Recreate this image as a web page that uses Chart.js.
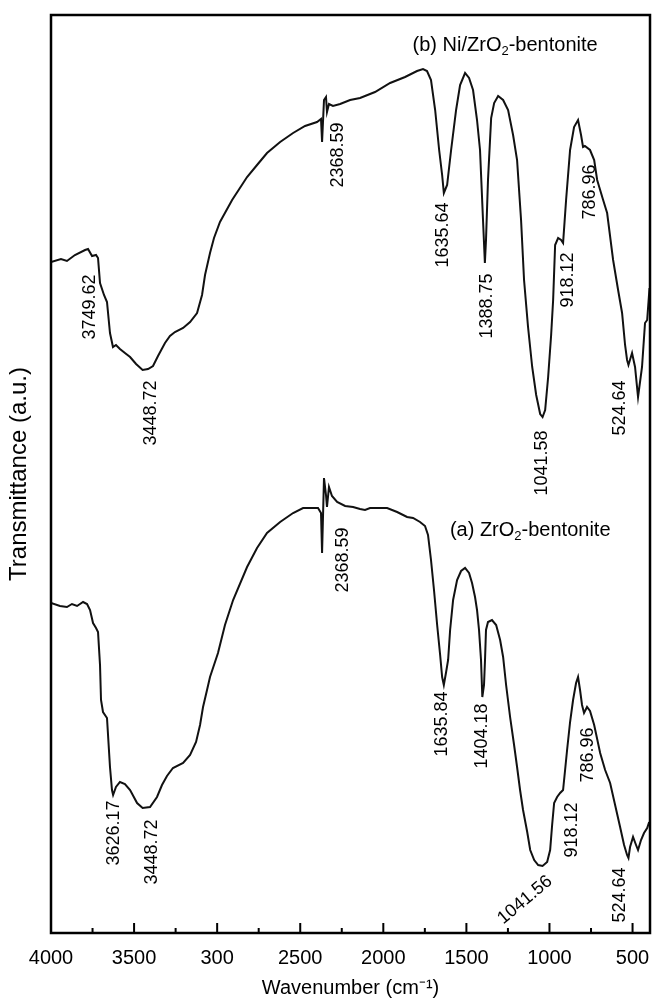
<!DOCTYPE html>
<html>
<head>
<meta charset="utf-8">
<title>FTIR spectra</title>
<script src="https://cdn.jsdelivr.net/npm/chart.js@4.4.1/dist/chart.umd.min.js"></script>
<style>
    html, body { margin: 0; padding: 0; background: #fff; }
    #wrap { width: 652px; height: 1000px; }
</style>
</head>
<body>
<div id="wrap"><canvas id="myChart"></canvas></div>
<script>
// Tick values and their printed labels (the original prints "300" for 3000)
const tickValues = [4000, 3500, 3000, 2500, 2000, 1500, 1000, 500];
const tickLabels = ['4000', '3500', '300', '2500', '2000', '1500', '1000', '500'];
const minorTickValues = [3750, 3250, 2750, 2250, 1750, 1250, 750];

// (b) Ni/ZrO2-bentonite
const bWavenumber = [4000, 3940, 3904, 3856, 3795, 3777, 3753, 3729, 3717, 3705, 3681, 3663, 3645, 3627, 3609, 3585, 3555, 3524, 3488, 3448.72,
    3416, 3386, 3356, 3314, 3284, 3254, 3205, 3163, 3121, 3091, 3073, 3043, 3019, 2983, 2910, 2820, 2760, 2700, 2621, 2543,
    2471, 2399, 2375, 2368.59, 2357, 2345, 2339, 2327, 2303, 2260, 2200, 2140, 2050, 1959, 1869, 1797, 1761, 1737, 1713, 1688,
    1664, 1646, 1635.64, 1616, 1592, 1562, 1538, 1508, 1484, 1460, 1436, 1418, 1400, 1388.75, 1382, 1370, 1351, 1333, 1309, 1279,
    1249, 1219, 1195, 1171, 1153, 1129, 1104, 1080, 1056, 1041.58, 1026, 1008, 990, 978, 966, 948, 930, 918.12, 900, 876,
    852, 828, 810, 798, 786.96, 756, 731, 713, 677, 653, 617, 587, 563, 545, 533, 524.64, 503, 485, 467, 443,
    425, 412, 398];
const bTransmittance = [6.71, 6.74, 6.72, 6.78, 6.83, 6.84, 6.77, 6.78, 6.75, 6.50, 6.38, 6.31, 6.00, 5.86, 5.88, 5.84, 5.80, 5.76, 5.69, 5.63,
    5.64, 5.67, 5.77, 5.90, 5.97, 6.01, 6.05, 6.11, 6.20, 6.38, 6.58, 6.80, 6.95, 7.11, 7.33, 7.56, 7.68, 7.80, 7.91, 8.00,
    8.07, 8.11, 8.14, 7.91, 8.33, 8.36, 8.21, 8.29, 8.27, 8.29, 8.33, 8.35, 8.41, 8.50, 8.56, 8.62, 8.64, 8.62, 8.53, 8.23,
    7.83, 7.58, 7.40, 7.48, 7.83, 8.23, 8.48, 8.60, 8.55, 8.43, 8.13, 7.83, 7.13, 6.70, 6.93, 7.53, 8.15, 8.30, 8.37, 8.33,
    8.23, 7.98, 7.73, 7.13, 6.53, 6.06, 5.66, 5.38, 5.19, 5.16, 5.23, 5.56, 5.98, 6.33, 6.88, 6.95, 6.93, 6.90, 7.33, 7.83,
    8.06, 8.13, 7.98, 7.86, 7.87, 7.83, 7.73, 7.53, 7.33, 7.20, 6.73, 6.43, 6.20, 5.88, 5.73, 5.68, 5.80, 5.66, 5.36, 5.66,
    6.10, 6.13, 6.45];

// (a) ZrO2-bentonite
const aWavenumber = [4000, 3946, 3904, 3874, 3843, 3807, 3783, 3765, 3747, 3729, 3717, 3705, 3699, 3687, 3663, 3645, 3633, 3626.17, 3609, 3585,
    3555, 3524, 3482, 3448.72, 3404, 3362, 3332, 3302, 3266, 3205, 3163, 3127, 3103, 3085, 3061, 3043, 2995, 2953, 2904, 2820,
    2760, 2700, 2621, 2543, 2483, 2393, 2375, 2368.59, 2357, 2345, 2339, 2327, 2309, 2278, 2230, 2182, 2140, 2110, 2080, 1977,
    1917, 1857, 1821, 1779, 1749, 1731, 1713, 1695, 1676, 1658, 1646, 1635.84, 1622, 1610, 1598, 1580, 1556, 1532, 1508, 1484,
    1466, 1448, 1436, 1424, 1412, 1404.18, 1394, 1388, 1382, 1370, 1346, 1321, 1297, 1279, 1261, 1237, 1213, 1195, 1177, 1159,
    1134, 1116, 1092, 1068, 1041.56, 1014, 996, 984, 972, 954, 936, 918.12, 906, 894, 876, 858, 840, 828, 816, 804,
    792, 774, 756, 731, 695, 665, 635, 605, 575, 551, 533, 524.64, 515, 497, 479, 467, 449, 431, 412, 400];
const aTransmittance = [3.30, 3.27, 3.26, 3.29, 3.27, 3.31, 3.29, 3.23, 3.10, 3.05, 3.01, 2.68, 2.33, 2.21, 2.15, 1.66, 1.43, 1.38, 1.46, 1.51,
    1.49, 1.43, 1.30, 1.25, 1.26, 1.36, 1.48, 1.57, 1.65, 1.70, 1.78, 1.91, 2.08, 2.26, 2.43, 2.56, 2.80, 3.08, 3.33, 3.66,
    3.85, 4.00, 4.11, 4.20, 4.25, 4.25, 4.20, 3.80, 4.55, 4.38, 4.26, 4.46, 4.37, 4.31, 4.27, 4.26, 4.24, 4.23, 4.25, 4.25,
    4.21, 4.16, 4.15, 4.11, 4.07, 3.98, 3.73, 3.43, 3.08, 2.78, 2.56, 2.48, 2.61, 2.73, 3.03, 3.33, 3.53, 3.62, 3.65, 3.60,
    3.50, 3.36, 3.23, 3.03, 2.73, 2.36, 2.48, 2.73, 3.03, 3.11, 3.13, 3.08, 2.93, 2.76, 2.48, 2.16, 1.88, 1.66, 1.43, 1.23,
    1.01, 0.83, 0.73, 0.68, 0.67, 0.71, 0.83, 1.08, 1.30, 1.36, 1.40, 1.43, 1.63, 1.83, 2.11, 2.33, 2.50, 2.56, 2.43, 2.28,
    2.20, 2.26, 2.22, 2.08, 1.80, 1.63, 1.50, 1.28, 1.06, 0.88, 0.78, 0.75, 0.86, 0.96, 0.88, 0.83, 0.93, 1.00, 1.05, 1.11];

// Peak labels, placed in data units (wavenumber, transmittance) of the text centre
const peakNotes = [
    { text: '3749.62', wn: 3765, t: 6.26, angle: -90 },
    { text: '3448.72', wn: 3398, t: 5.20, angle: -90 },
    { text: '2368.59', wn: 2272, t: 7.78, angle: -90 },
    { text: '1635.64', wn: 1640, t: 6.98, angle: -90 },
    { text: '1388.75', wn: 1375, t: 6.27, angle: -90 },
    { text: '1041.58', wn: 1044, t: 4.70, angle: -90 },
    { text: '918.12', wn: 888, t: 6.53, angle: -90 },
    { text: '786.96', wn: 755, t: 7.41, angle: -90 },
    { text: '524.64', wn: 575, t: 5.25, angle: -90 },
    { text: '2368.59', wn: 2242, t: 3.73, angle: -90 },
    { text: '3626.17', wn: 3621, t: 1.00, angle: -90 },
    { text: '3448.72', wn: 3392, t: 0.81, angle: -90 },
    { text: '1635.84', wn: 1646, t: 2.09, angle: -90 },
    { text: '1404.18', wn: 1405, t: 1.97, angle: -90 },
    { text: '786.96', wn: 767, t: 1.78, angle: -90 },
    { text: '918.12', wn: 864, t: 1.03, angle: -90 },
    { text: '1041.56', wn: 1147, t: 0.33, angle: -40 },
    { text: '524.64', wn: 575, t: 0.38, angle: -90 }
];
const sampleNotes = [
    { parts: ['(b) Ni/ZrO', '2', '-bentonite'], wn: 1267, t: 8.88 },
    { parts: ['(a) ZrO', '2', '-bentonite'], wn: 1116, t: 4.03 }
];

Chart.defaults.font.family = "'Liberation Sans', Arial, Helvetica, sans-serif";
Chart.defaults.color = '#000';

function toPoints(xs, ys) {
    return xs.map((x, i) => ({ x: x, y: ys[i] }));
}

// Box round the plot and inward tick marks on the bottom axis
const frameTicks = {
    id: 'frameTicks',
    afterDraw(chart) {
        const { ctx, chartArea: a } = chart;
        const x = chart.scales.x;
        ctx.save();
        ctx.strokeStyle = '#000';
        ctx.lineWidth = 2.5;
        ctx.strokeRect(a.left, a.top, a.right - a.left, a.bottom - a.top);
        ctx.lineWidth = 2;
        ctx.beginPath();
        tickValues.forEach(v => {
            const px = x.getPixelForValue(v);
            ctx.moveTo(px, a.bottom);
            ctx.lineTo(px, a.bottom - 10);
        });
        minorTickValues.forEach(v => {
            const px = x.getPixelForValue(v);
            ctx.moveTo(px, a.bottom);
            ctx.lineTo(px, a.bottom - 5);
        });
        ctx.stroke();
        ctx.restore();
    }
};

// Peak numbers and sample names
const notes = {
    id: 'notes',
    afterDraw(chart) {
        const { ctx } = chart;
        const x = chart.scales.x, y = chart.scales.y;
        const family = Chart.defaults.font.family;
        ctx.save();
        ctx.fillStyle = '#000';
        ctx.textBaseline = 'middle';
        ctx.textAlign = 'center';
        ctx.font = '18px ' + family;
        peakNotes.forEach(n => {
            ctx.save();
            ctx.translate(x.getPixelForValue(n.wn), y.getPixelForValue(n.t));
            ctx.rotate(n.angle * Math.PI / 180);
            ctx.fillText(n.text, 0, 0);
            ctx.restore();
        });
        ctx.textAlign = 'left';
        sampleNotes.forEach(n => {
            const big = '20px ' + family, small = '13px ' + family;
            ctx.font = big;
            const w1 = ctx.measureText(n.parts[0]).width;
            const w3 = ctx.measureText(n.parts[2]).width;
            ctx.font = small;
            const w2 = ctx.measureText(n.parts[1]).width;
            let px = x.getPixelForValue(n.wn) - (w1 + w2 + w3) / 2;
            const py = y.getPixelForValue(n.t);
            ctx.font = big;
            ctx.fillText(n.parts[0], px, py);
            px += w1;
            ctx.font = small;
            ctx.fillText(n.parts[1], px, py + 6);
            px += w2;
            ctx.font = big;
            ctx.fillText(n.parts[2], px, py);
        });
        ctx.restore();
    }
};

const ctx = document.getElementById('myChart').getContext('2d');
const myChart = new Chart(ctx, {
    type: 'line',
    data: {
        datasets: [{
            label: '(b) Ni/ZrO2-bentonite',
            data: toPoints(bWavenumber, bTransmittance),
            borderColor: '#111',
            borderWidth: 2,
            pointRadius: 0,
            tension: 0,
            fill: false
        }, {
            label: '(a) ZrO2-bentonite',
            data: toPoints(aWavenumber, aTransmittance),
            borderColor: '#111',
            borderWidth: 2,
            pointRadius: 0,
            tension: 0,
            fill: false
        }]
    },
    options: {
        responsive: true,
        maintainAspectRatio: false,
        animation: false,
        devicePixelRatio: 1,
        layout: { padding: { top: 15, right: 2, left: 0, bottom: 0 } },
        plugins: {
            legend: { display: false },
            tooltip: { enabled: false }
        },
        scales: {
            x: {
                type: 'linear',
                reverse: true,
                min: 395,
                max: 4000,
                grid: { display: false, drawTicks: false },
                border: { display: false },
                afterBuildTicks: s => { s.ticks = tickValues.map(v => ({ value: v })); },
                afterFit: s => {
                    s.height = 67;
                    // labels at the ends fit inside the canvas, so no extra side room
                    s.paddingLeft = 0;
                    s.paddingRight = 0;
                },
                ticks: {
                    autoSkip: false,
                    maxRotation: 0,
                    padding: 13,
                    font: { size: 20 },
                    callback: v => tickLabels[tickValues.indexOf(v)]
                },
                title: {
                    display: true,
                    text: 'Wavenumber (cm\u207B\u00B9)',
                    font: { size: 20 },
                    padding: 0
                }
            },
            y: {
                min: 0,
                max: 9.18,
                grid: { display: false, drawTicks: false },
                border: { display: false },
                ticks: { display: false },
                afterFit: s => { s.width = 51; },
                title: {
                    display: true,
                    text: 'Transmittance (a.u.)',
                    font: { size: 24 },
                    padding: { top: 5, bottom: 0 }
                }
            }
        }
    },
    plugins: [frameTicks, notes]
});
</script>
</body>
</html>
